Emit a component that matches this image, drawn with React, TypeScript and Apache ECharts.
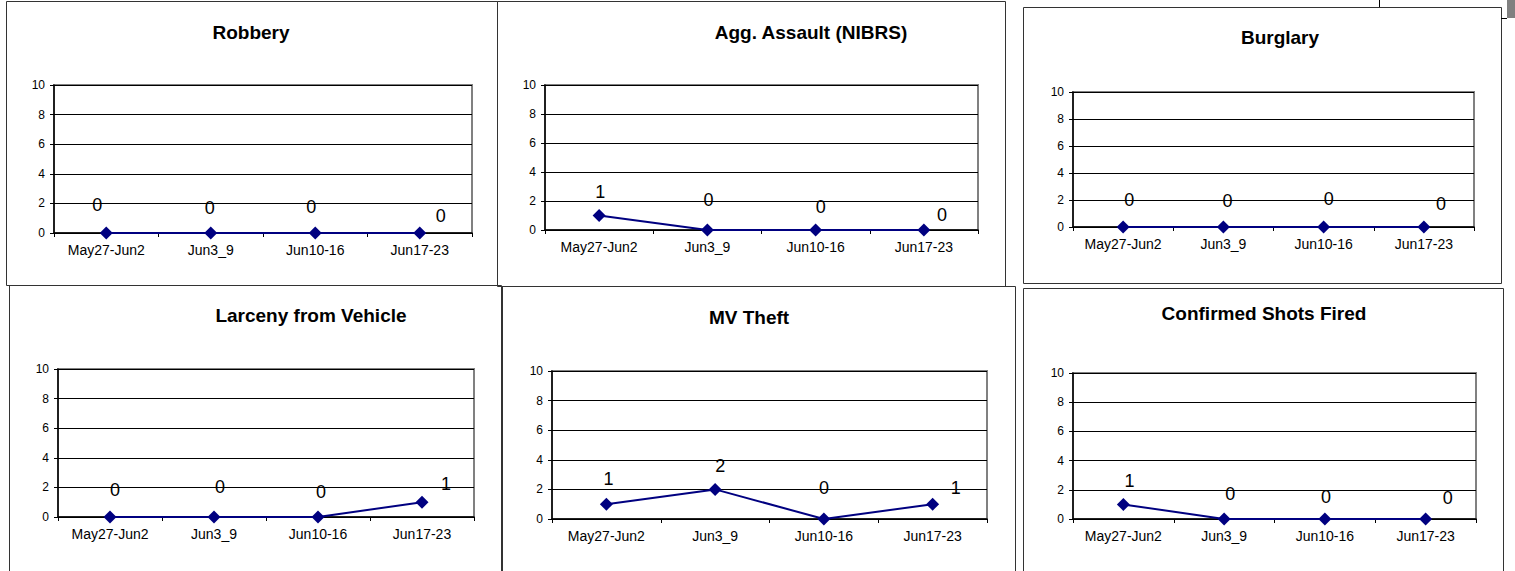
import React, { useEffect, useRef } from "react";
import * as echarts from "echarts";

const CATEGORIES = ["May27-Jun2", "Jun3_9", "Jun10-16", "Jun17-23"];
const TITLES = [
  "Robbery",
  "Agg. Assault (NIBRS)",
  "Burglary",
  "Larceny from Vehicle",
  "MV Theft",
  "Confirmed Shots Fired",
];
const ROBBERY = [0, 0, 0, 0];
const AGG_ASSAULT = [1, 0, 0, 0];
const BURGLARY = [0, 0, 0, 0];
const LARCENY_FROM_VEHICLE = [0, 0, 0, 1];
const MV_THEFT = [1, 2, 0, 1];
const SHOTS_FIRED = [1, 0, 0, 0];
const Y_MIN = 0;
const Y_MAX = 10;
const Y_STEP = 2;

const SERIES_VALUES = [ROBBERY, AGG_ASSAULT, BURGLARY, LARCENY_FROM_VEHICLE, MV_THEFT, SHOTS_FIRED];

// layout: plot rect (x0, y0, x1, y1), title centre, panel frame, label offsets
const LAYOUT = [
  { plot: [54, 85, 472, 233], title: [251, 32], frame: [6, 1, 497, 285], offs: [[-9, -28], [-1, -25], [-4, -26], [21, -17]] },
  { plot: [545, 85, 978, 230], title: [811, 32], frame: [497, 1, 1005, 286], offs: [[1, -24], [1, -30], [5, -23], [18, -15]] },
  { plot: [1073, 92, 1474, 227], title: [1280, 37], frame: [1023, 7, 1501, 283], offs: [[6, -27], [4, -26], [5, -28], [17, -23]] },
  { plot: [58, 369, 474, 517], title: [311, 315], frame: [9, 285, 501, 580], offs: [[5, -27], [6, -30], [3, -25], [24, -18]] },
  { plot: [552, 371, 987, 519], title: [749, 317], frame: [502, 286, 1015, 580], offs: [[2, -25], [5, -23], [0, -31], [23, -16]] },
  { plot: [1073, 373, 1476, 519], title: [1264, 313], frame: [1023, 288, 1503, 580], offs: [[6, -23], [6, -25], [1, -22], [22, -21]] },
];

const FONT = "Arial, 'Liberation Sans', sans-serif";

export default function App() {
  const ref = useRef<HTMLDivElement>(null);
  useEffect(() => {
    if (!ref.current) return;
    const chart = echarts.init(ref.current, null, { renderer: "svg" });
    const grids: any[] = [];
    const xAxes: any[] = [];
    const yAxes: any[] = [];
    const series: any[] = [];
    const graphics: any[] = [];

    LAYOUT.forEach((L, i) => {
      const [x0, y0, x1, y1] = L.plot;
      grids.push({
        left: x0,
        top: y0,
        width: x1 - x0,
        height: y1 - y0,
        show: true,
        borderColor: "#808080",
        borderWidth: 2,
        backgroundColor: "#fff",
      });
      xAxes.push({
        type: "category",
        gridIndex: i,
        data: CATEGORIES,
        boundaryGap: true,
        axisLine: { show: true, onZero: false, lineStyle: { color: "#000", width: 1.5 } },
        axisTick: { show: true, length: 4, inside: false, lineStyle: { color: "#000" } },
        axisLabel: { color: "#000", fontSize: 14, fontFamily: FONT, margin: 10, interval: 0 },
        splitLine: { show: false },
      });
      yAxes.push({
        type: "value",
        gridIndex: i,
        min: Y_MIN,
        max: Y_MAX,
        interval: Y_STEP,
        axisLine: { show: true, lineStyle: { color: "#000", width: 1.5 } },
        axisTick: { show: true, length: 4, inside: false, lineStyle: { color: "#000" } },
        axisLabel: { color: "#000", fontSize: 12, fontFamily: FONT, margin: 9 },
        splitLine: { show: true, lineStyle: { color: "#000", width: 1 } },
      });
      series.push({
        type: "line",
        xAxisIndex: i,
        yAxisIndex: i,
        data: SERIES_VALUES[i].map((v, j) => ({
          value: v,
          label: { offset: L.offs[j] },
        })),
        symbol: "diamond",
        symbolSize: 13,
        showAllSymbol: true,
        lineStyle: { color: "#000080", width: 2 },
        itemStyle: { color: "#000080" },
        label: {
          show: true,
          position: "inside",
          color: "#000",
          fontSize: 18,
          fontFamily: FONT,
        },
        z: 5,
      });
      const [fx0, fy0, fx1, fy1] = L.frame;
      graphics.push({
        type: "rect",
        shape: { x: fx0 + 0.5, y: fy0 + 0.5, width: fx1 - fx0, height: fy1 - fy0 },
        style: { fill: "none", stroke: "#333", lineWidth: 1 },
        z: -1,
        silent: true,
      });
      graphics.push({
        type: "text",
        x: L.title[0],
        y: L.title[1],
        style: {
          text: TITLES[i],
          fontSize: 19,
          fontWeight: "bold",
          fontFamily: FONT,
          fill: "#000",
          align: "center",
          verticalAlign: "middle",
        },
        silent: true,
      });
    });

    // small artefacts at the top right of the page
    graphics.push({
      type: "line",
      shape: { x1: 1379.5, y1: 0, x2: 1379.5, y2: 7 },
      style: { stroke: "#000", lineWidth: 1 },
    });
    graphics.push({
      type: "rect",
      shape: { x: 1507, y: 0, width: 8, height: 18 },
      style: { fill: "#808080" },
    });
    graphics.push({
      type: "line",
      shape: { x1: 1501, y1: 18.5, x2: 1507, y2: 18.5 },
      style: { stroke: "#000", lineWidth: 1 },
    });

    chart.setOption({
      animation: false,
      backgroundColor: "#fff",
      grid: grids,
      xAxis: xAxes,
      yAxis: yAxes,
      series,
      graphic: graphics,
    });
    return () => chart.dispose();
  }, []);
  return (
    <div
      ref={ref}
      style={{ position: "absolute", left: 0, top: 0, width: 1515, height: 571 }}
    />
  );
}
